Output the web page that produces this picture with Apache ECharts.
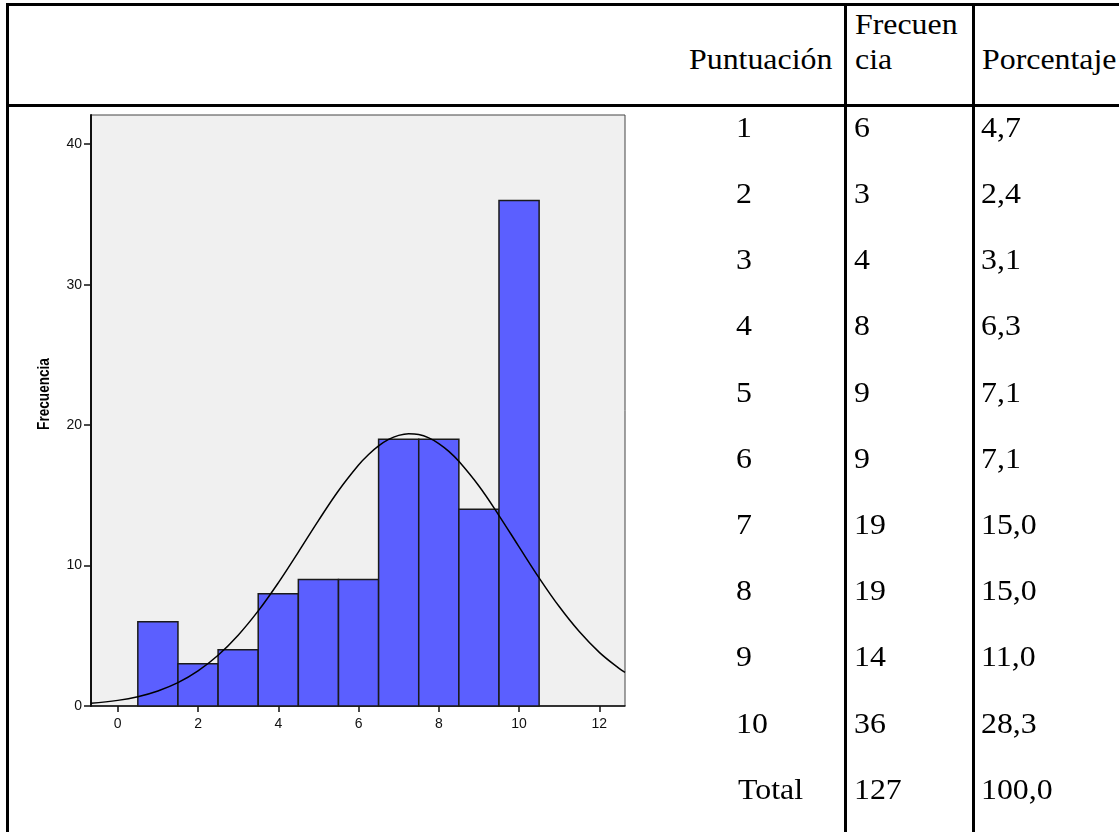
<!DOCTYPE html>
<html><head><meta charset="utf-8">
<script src="https://cdn.jsdelivr.net/npm/echarts@6/dist/echarts.min.js"></script>
<style>
html,body{margin:0;padding:0;background:#fff;}
#wrap{position:relative;width:1119px;height:832px;overflow:hidden;background:#fff;}
#chart{position:absolute;left:10px;top:108px;width:830px;height:724px;}
.ln{position:absolute;background:#000;}
.t{position:absolute;font-family:"Liberation Serif","Times New Roman",serif;font-size:29.5px;line-height:30px;color:#000;white-space:nowrap;transform:scaleX(1.08);transform-origin:0 0;}
</style></head>
<body><div id="wrap"><div id="chart"></div></div>
<script>
// ---- data ----
const scores = [1, 2, 3, 4, 5, 6, 7, 8, 9, 10];
const frequencies = [6, 3, 4, 8, 9, 9, 19, 19, 14, 36];
const percentages = ['4,7', '2,4', '3,1', '6,3', '7,1', '7,1', '15,0', '15,0', '11,0', '28,3'];
const totalRow = ['Total', '127', '100,0'];
const headerPunt = 'Puntuación';
const headerFreq = ['Frecuen', 'cia'];
const headerPct = 'Porcentaje';
const yAxisTitle = 'Frecuencia';
// normal curve points
const curveX = [-0.67, 0, 0.5, 1, 1.5, 2, 2.5, 3, 3.5, 4, 4.5, 5, 5.5, 6, 6.25, 6.5, 6.75, 7, 7.25, 7.5, 7.75, 8, 8.25, 8.5, 9, 9.5, 10, 10.5, 11, 11.5, 12, 12.5, 12.64];
const curveY = [0.19, 0.40, 0.66, 1.07, 1.66, 2.50, 3.61, 5.04, 6.77, 8.77, 10.96, 13.20, 15.33, 17.16, 17.91, 18.52, 18.98, 19.27, 19.39, 19.33, 19.09, 18.69, 18.13, 17.42, 15.66, 13.56, 11.33, 9.12, 7.08, 5.30, 3.82, 2.66, 2.39];
const xTicks = [0, 2, 4, 6, 8, 10, 12];
const yTicks = [0, 10, 20, 30, 40];

// ---- table (HTML) ----
const wrap = document.getElementById('wrap');
function line(l, t, w, h) { const d = document.createElement('div'); d.className = 'ln'; Object.assign(d.style, {left: l + 'px', top: t + 'px', width: w + 'px', height: h + 'px'}); wrap.appendChild(d); }
function txt(s, left, baseline) { const d = document.createElement('div'); d.className = 't'; d.textContent = s; d.style.left = left + 'px'; d.style.top = (baseline - 25) + 'px'; wrap.appendChild(d); }
line(6, 3, 1113, 3);      // top border
line(6, 3, 3, 829);       // left border
line(6, 104, 1113, 3);    // header bottom
line(844, 3, 3, 829);     // col sep 1
line(971.5, 3, 3, 829);   // col sep 2

txt(headerPunt, 689, 69);
txt(headerFreq[0], 854.5, 33.5);
txt(headerFreq[1], 854.5, 69);
txt(headerPct, 982, 69);
const col1 = 736, col2 = 854, col3 = 981, base0 = 136.7, step = 66.2;
scores.forEach((s, i) => {
  const b = base0 + i * step;
  txt(String(s), col1, b);
  txt(String(frequencies[i]), col2, b);
  txt(percentages[i], col3, b);
});
txt(totalRow[0], col1 + 2, base0 + 10 * step);
txt(totalRow[1], col2, base0 + 10 * step);
txt(totalRow[2], col3, base0 + 10 * step);

// ---- chart ----
const chart = echarts.init(document.getElementById('chart'), null, {renderer: 'canvas'});
const histData = scores.map((s, i) => [s - 0.5, s + 0.5, frequencies[i]]);
const option = {
  animation: false,
  grid: {left: 81, top: 7, width: 534, height: 591, show: true, backgroundColor: '#f0f0f0', borderColor: '#444', borderWidth: 1},
  xAxis: {
    type: 'value', min: -0.667, max: 12.64,
    axisLine: {show: true, onZero: false, lineStyle: {color: '#111', width: 1.5}},
    axisTick: {show: true, customValues: xTicks, length: 6, lineStyle: {color: '#111', width: 1.5}},
    axisLabel: {customValues: xTicks, margin: 11, color: '#111', fontFamily: 'Liberation Sans, Arial', fontSize: 14},
    splitLine: {show: false}
  },
  yAxis: {
    type: 'value', min: 0, max: 42.08,
    axisLine: {show: true, onZero: false, lineStyle: {color: '#111', width: 2}},
    axisTick: {show: true, customValues: yTicks, length: 7, lineStyle: {color: '#111', width: 1.5}},
    axisLabel: {customValues: yTicks, margin: 9, color: '#111', fontFamily: 'Liberation Sans, Arial', fontSize: 14, padding: [4, 0, 0, 0]},
    splitLine: {show: false}
  },
  graphic: [{
    type: 'text', x: 35, y: 286, rotation: Math.PI / 2, scaleX: 0.85,
    style: {text: yAxisTitle, fill: '#000', font: 'bold 16px "Liberation Sans", Arial', textAlign: 'center', textVerticalAlign: 'middle'}
  }],
  series: [{
    type: 'custom',
    data: histData,
    encode: {x: [0, 1], y: 2},
    renderItem: function (params, api) {
      const p0 = api.coord([api.value(0), api.value(2)]);
      const p1 = api.coord([api.value(1), 0]);
      return {type: 'rect', shape: {x: p0[0], y: p0[1], width: p1[0] - p0[0], height: p1[1] - p0[1]},
        style: {fill: '#5b5fff', stroke: '#1a1a1a', lineWidth: 1.5}};
    },
    z: 2
  }, {
    type: 'line',
    data: curveX.map((x, i) => [x, curveY[i]]),
    smooth: 0.4, showSymbol: false, silent: true,
    lineStyle: {color: '#000', width: 1.5},
    z: 3
  }]
};
chart.setOption(option);
</script>
</body></html>
